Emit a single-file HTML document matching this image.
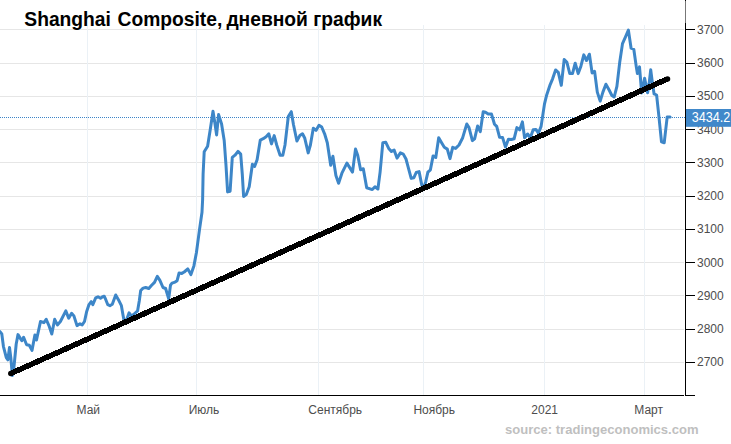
<!DOCTYPE html>
<html><head><meta charset="utf-8"><title>Shanghai Composite</title>
<style>
html,body{margin:0;padding:0;background:#fff;}
body{width:731px;height:444px;overflow:hidden;font-family:"Liberation Sans",sans-serif;}
svg{display:block}
text{font-family:"Liberation Sans",sans-serif;}
</style></head><body>
<svg width="731" height="444" viewBox="0 0 731 444">
<rect x="0" y="0" width="731" height="444" fill="#ffffff"/>

<g shape-rendering="crispEdges">
<rect x="0" y="29" width="684" height="1" fill="#e6e6e6"/>
<rect x="0" y="63" width="684" height="1" fill="#e6e6e6"/>
<rect x="0" y="96" width="684" height="1" fill="#e6e6e6"/>
<rect x="0" y="129" width="684" height="1" fill="#e6e6e6"/>
<rect x="0" y="162" width="684" height="1" fill="#e6e6e6"/>
<rect x="0" y="196" width="684" height="1" fill="#e6e6e6"/>
<rect x="0" y="229" width="684" height="1" fill="#e6e6e6"/>
<rect x="0" y="262" width="684" height="1" fill="#e6e6e6"/>
<rect x="0" y="295" width="684" height="1" fill="#e6e6e6"/>
<rect x="0" y="329" width="684" height="1" fill="#e6e6e6"/>
<rect x="0" y="362" width="684" height="1" fill="#e6e6e6"/>
<rect x="87" y="25" width="1" height="370" fill="#ebf1f6"/>
<rect x="196" y="25" width="1" height="370" fill="#ebf1f6"/>
<rect x="318" y="25" width="1" height="370" fill="#ebf1f6"/>
<rect x="423" y="25" width="1" height="370" fill="#ebf1f6"/>
<rect x="544" y="25" width="1" height="370" fill="#ebf1f6"/>
<rect x="644" y="25" width="1" height="370" fill="#ebf1f6"/>
</g>
<line x1="0" y1="117.5" x2="685" y2="117.5" stroke="#3d84c8" stroke-width="1" stroke-dasharray="1 1" shape-rendering="crispEdges"/>
<polyline fill="none" stroke="#3d86c8" stroke-width="3" stroke-linejoin="round" stroke-linecap="round" points="0,331.7 1.8,333.9 3.4,346.3 6.3,357.6 7.9,359.8 9.5,347.4 10.8,357.6 12.4,375.5 14,366.6 16.2,344 18,334.6 20.3,338.4 21.8,340.7 23.6,337.3 26.6,344.7 29.3,345.2 32,350.4 34.9,335 36.5,340 40.5,321.5 43.9,322.7 46.2,319.3 49.1,326 51.8,334 54.7,319.3 57.4,324.9 60.4,321.5 65.8,310.9 68.7,318.2 71.6,313.2 73.9,315.9 77,325.6 80,323.8 82.2,324.9 84.5,321.5 86.7,311.4 89,304.6 91.2,301.7 92.8,304.6 95.7,297.9 98,296.8 100.5,298.2 102.2,297 104.2,296.2 105.8,299.7 107.8,304.7 109.9,305.7 112.3,304.3 115.7,295 118.4,299.7 121.4,305.7 123,314.9 124.5,323 126.5,320 129.1,312.8 131.2,315.9 133.6,314.5 137.6,310.8 139.3,300.7 140.7,290.5 143.1,288.1 145.7,287.5 148.8,288.5 151.4,285.5 154.5,282.4 157.3,276.4 159.9,280.4 163,287.5 165.6,288.5 168.7,298.7 170.5,285.1 172,283.1 175.1,282.1 177.1,280.7 179.1,273 181.8,273.4 184.2,272 187.8,268.9 190.9,274.6 193.9,265.9 196.4,252.7 199.4,230.4 202,212.2 202.6,200 203.1,174.3 204.2,151.8 207.6,146.2 210.3,129.3 213,111.3 214.8,122.5 216.6,134.9 218.6,114.6 221.5,123.6 224.2,140.5 226,165.3 227.6,191.9 230.1,191.2 232.3,157.4 235,155.2 238,151.4 240.7,154.1 242.3,174.3 243.6,196.4 246.3,194.6 249.2,186.7 252.4,164.2 254.6,166.4 257.1,159.7 260.3,140.1 263.2,138.7 266.1,136.7 268.8,133.8 271.5,143.9 274.2,135.6 276.7,145 280.1,155.2 282.8,155.2 285,145 286.8,129.3 288.3,116.5 291.3,111.7 293.5,124.8 296.9,141 299.8,135.6 302.5,133.8 304.8,138.3 308.2,152.9 310.4,145 313.3,128.2 316,130.4 319,125.2 321.7,127 324.6,133.8 327.3,142.8 330.7,165.3 332.9,156.3 335.9,175.5 338.6,183.3 341.9,173.2 346.9,163.1 352.5,172.1 355.5,149.1 357.7,155.2 360.6,169.8 363.3,168.7 366.7,187.8 372.3,189.6 375,186.7 377.9,189 380.1,172.1 382.8,142.8 385.8,142.3 388.7,148.4 391.4,151.4 394.1,150 397,158.1 400.4,152.9 403.3,154.1 406,159 408.3,167.6 411.2,178.4 413.9,177.7 416.2,172.5 419.1,171.6 421.8,185.1 423.4,189 425.6,182.2 427.9,172.1 430.4,169.8 433.1,155.9 435.8,157.4 438.7,137.8 441.6,142.8 444.3,147.3 447.3,149.1 450,158.6 452.7,147.3 455.6,148.4 459,145 462.7,137.7 465,129.8 466.8,124 469,127.6 472.4,140.6 474.6,138.8 477.6,126 480.3,131.6 483.2,111.8 485.5,112.3 488.2,114.1 491.5,114.1 494.5,124.2 496.7,126.4 499.6,137.3 502.6,137.6 505.5,147 508.4,139.3 511.4,139.5 514.1,138.8 516.9,127.6 519.7,129.8 522.4,121.9 524.6,137.7 527.6,134 530.3,137.7 533.2,129.8 535.9,129.4 538.4,133.2 541.1,126.4 544.5,103.9 546.7,94.9 550.1,84.8 552.7,78.6 555.6,70 558.3,72.3 561.3,85.3 564.2,59.4 566.9,62.3 569.8,73.6 572.5,73.6 575.2,63.2 578.2,73.6 580.9,66.2 583.8,54.9 586.5,60.5 589.4,54.2 592.1,72.9 594.6,71.4 597.3,92.1 600.2,101.1 602.9,92.1 605.9,84.2 609,89.8 611.9,95.5 614.2,97 616.9,86.4 619.8,61.7 622.5,43.6 625.5,36.9 628.4,30.1 631.1,48.2 633.8,49.3 636.3,66.9 637.4,73.6 639.5,66.9 641.7,93 644.6,78.2 647.6,92.8 649.1,83.8 650.7,69.8 652.5,83.8 654.1,93.9 656.6,95 658.8,115.3 661.5,141.9 664.2,142.8 667.2,116.9 670.1,117.1"/>
<line x1="10.8" y1="373.5" x2="667.5" y2="78.9" stroke="#000" stroke-width="5.5" stroke-linecap="butt" shape-rendering="crispEdges"/>
<circle cx="10.8" cy="373.5" r="2.75" fill="#000"/><circle cx="667.5" cy="78.9" r="2.75" fill="#000"/>
<g shape-rendering="crispEdges">
<rect x="685" y="0" width="1" height="1" fill="#000"/>
<rect x="685" y="1" width="1" height="22" fill="#777"/>
<rect x="685" y="23" width="1" height="373" fill="#000"/>
<rect x="0" y="395" width="684" height="1" fill="#000"/>
<rect x="685" y="395" width="10" height="1" fill="#000"/>
</g>
<rect x="685" y="29" width="10" height="1" fill="#000" shape-rendering="crispEdges"/>
<rect x="685" y="63" width="10" height="1" fill="#000" shape-rendering="crispEdges"/>
<rect x="685" y="96" width="10" height="1" fill="#000" shape-rendering="crispEdges"/>
<rect x="685" y="129" width="10" height="1" fill="#000" shape-rendering="crispEdges"/>
<rect x="685" y="162" width="10" height="1" fill="#000" shape-rendering="crispEdges"/>
<rect x="685" y="196" width="10" height="1" fill="#000" shape-rendering="crispEdges"/>
<rect x="685" y="229" width="10" height="1" fill="#000" shape-rendering="crispEdges"/>
<rect x="685" y="262" width="10" height="1" fill="#000" shape-rendering="crispEdges"/>
<rect x="685" y="295" width="10" height="1" fill="#000" shape-rendering="crispEdges"/>
<rect x="685" y="329" width="10" height="1" fill="#000" shape-rendering="crispEdges"/>
<rect x="685" y="362" width="10" height="1" fill="#000" shape-rendering="crispEdges"/>
<text x="697" y="33.8" font-size="12" fill="#4d4d4d">3700</text>
<text x="697" y="66.8" font-size="12" fill="#4d4d4d">3600</text>
<text x="697" y="99.8" font-size="12" fill="#4d4d4d">3500</text>
<text x="697" y="133.8" font-size="12" fill="#4d4d4d">3400</text>
<text x="697" y="166.8" font-size="12" fill="#4d4d4d">3300</text>
<text x="697" y="199.8" font-size="12" fill="#4d4d4d">3200</text>
<text x="697" y="232.8" font-size="12" fill="#4d4d4d">3100</text>
<text x="697" y="266.8" font-size="12" fill="#4d4d4d">3000</text>
<text x="697" y="299.8" font-size="12" fill="#4d4d4d">2900</text>
<text x="697" y="332.8" font-size="12" fill="#4d4d4d">2800</text>
<text x="697" y="365.8" font-size="12" fill="#4d4d4d">2700</text>
<rect x="686" y="109" width="45" height="17.8" fill="#4088ca"/>
<text transform="translate(691.7,122) scale(0.9,1)" font-size="14" fill="#fff">3434.2</text>
<text x="76.5" y="414" font-size="12" fill="#4d4d4d">Май</text>
<text x="188.7" y="414" font-size="12" fill="#4d4d4d">Июль</text>
<text x="308.3" y="414" font-size="12" fill="#4d4d4d">Сентябрь</text>
<text x="413.4" y="414" font-size="12" fill="#4d4d4d">Ноябрь</text>
<text x="531.3" y="414" font-size="12" fill="#4d4d4d">2021</text>
<text x="634.3" y="414" font-size="12" fill="#4d4d4d">Март</text>
<text transform="translate(24.3,26.1) scale(0.9725,1)" font-size="19.8" font-weight="bold" fill="#000">Shanghai <tspan dx="1.3">Composite,</tspan><tspan dx="-1.3"> дневной график</tspan></text>
<text x="505" y="434" font-size="13.05" font-weight="bold" fill="#bfbfbf">source: tradingeconomics.com</text>
</svg></body></html>
